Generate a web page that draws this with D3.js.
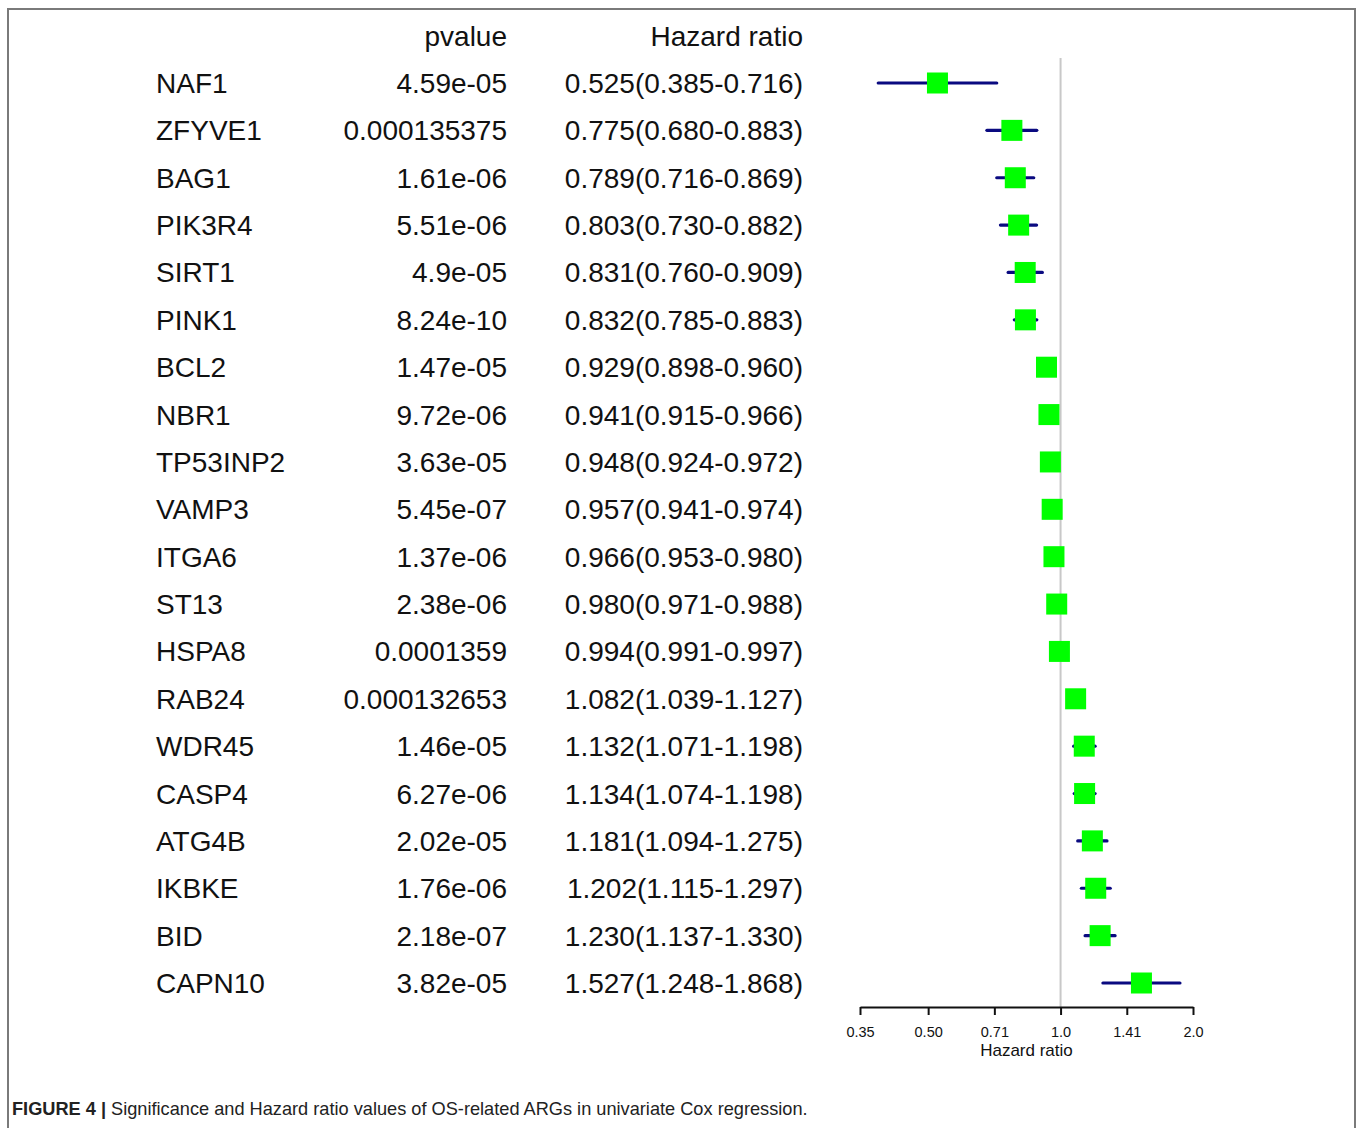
<!DOCTYPE html>
<html><head><meta charset="utf-8">
<script src="https://cdn.jsdelivr.net/npm/d3@7"></script>
<style>
html,body{margin:0;padding:0;background:#fff;}
svg{display:block;}
</style></head>
<body>
<script>
const genes = ["NAF1","ZFYVE1","BAG1","PIK3R4","SIRT1","PINK1","BCL2","NBR1","TP53INP2","VAMP3","ITGA6","ST13","HSPA8","RAB24","WDR45","CASP4","ATG4B","IKBKE","BID","CAPN10"];
const pvalues = ["4.59e-05","0.000135375","1.61e-06","5.51e-06","4.9e-05","8.24e-10","1.47e-05","9.72e-06","3.63e-05","5.45e-07","1.37e-06","2.38e-06","0.0001359","0.000132653","1.46e-05","6.27e-06","2.02e-05","1.76e-06","2.18e-07","3.82e-05"];
const hr = [0.525,0.775,0.789,0.803,0.831,0.832,0.929,0.941,0.948,0.957,0.966,0.980,0.994,1.082,1.132,1.134,1.181,1.202,1.230,1.527];
const hrLow = [0.385,0.680,0.716,0.730,0.760,0.785,0.898,0.915,0.924,0.941,0.953,0.971,0.991,1.039,1.071,1.074,1.094,1.115,1.137,1.248];
const hrHigh = [0.716,0.883,0.869,0.882,0.909,0.883,0.960,0.966,0.972,0.974,0.980,0.988,0.997,1.127,1.198,1.198,1.275,1.297,1.330,1.868];
const tickValues = [0.35,0.5,Math.SQRT1_2,1,Math.SQRT2,2];
const tickLabels = ["0.35","0.50","0.71","1.0","1.41","2.0"];

const W = 1357, H = 1128;
const svg = d3.select("body").append("svg").attr("width", W).attr("height", H);

// border
svg.append("path").attr("d", `M8,1128 L8,9 L1355,9 L1355,1128`)
  .attr("fill","none").attr("stroke","#7a7a7a").attr("stroke-width",2);

const font = "'Liberation Sans', Arial, sans-serif";
const fs = 28;

const y = d3.scalePoint().domain(genes).range([83, 983]);
const step = y.step();
const x = d3.scaleLog().base(2).domain([0.35, 2]).range([860, 1193]);

const fmt = d3.format(".3f");
const hrText = hr.map((v,i)=>`${fmt(v)}(${fmt(hrLow[i])}-${fmt(hrHigh[i])})`);

const base = 10;
const txt = svg.append("g").attr("font-family", font).attr("font-size", fs).attr("fill", "#111");
txt.append("text").attr("x", 507).attr("y", 83 - step + base).attr("text-anchor","end").text("pvalue");
txt.append("text").attr("x", 803).attr("y", 83 - step + base).attr("text-anchor","end").text("Hazard ratio");

const rows = txt.selectAll("g.row").data(genes).join("g").attr("class","row")
  .attr("transform", d => `translate(0,${y(d) + base})`);
rows.append("text").attr("x", 156).text(d => d);
rows.append("text").attr("x", 507).attr("text-anchor","end").text((d,i) => pvalues[i]);
rows.append("text").attr("x", 803).attr("text-anchor","end").text((d,i) => hrText[i]);

// reference line
svg.append("line").attr("x1", x(1)).attr("x2", x(1)).attr("y1", 58).attr("y2", 1007)
  .attr("stroke","#c8c8c8").attr("stroke-width",2);

// CI lines
svg.append("g").selectAll("line").data(genes).join("line")
  .attr("x1", (d,i) => x(hrLow[i])).attr("x2", (d,i) => x(hrHigh[i]))
  .attr("y1", d => y(d)).attr("y2", d => y(d))
  .attr("stroke", "#0a0a80").attr("stroke-width", 3.2).attr("stroke-linecap","round");

// squares
const sq = 21;
svg.append("g").selectAll("rect").data(genes).join("rect")
  .attr("x", (d,i) => x(hr[i]) - sq/2).attr("y", d => y(d) - sq/2)
  .attr("width", sq).attr("height", sq).attr("fill", "#00ff00");

// axis
const axis = d3.axisBottom(x).tickValues(tickValues).tickFormat((d,i) => tickLabels[i]).tickSize(8).tickSizeOuter(0);
const ag = svg.append("g").attr("transform", "translate(0,1007)").call(axis);
ag.select(".domain").attr("stroke","#111").attr("stroke-width",2);
ag.selectAll(".tick line").attr("stroke","#111").attr("stroke-width",2);
ag.selectAll(".tick text").attr("font-family", font).attr("font-size", 14.5).attr("fill","#111").attr("y", 20).attr("dy", "0.71em");
svg.append("text").attr("x", (860+1193)/2).attr("y", 1056).attr("text-anchor","middle")
  .attr("font-family", font).attr("font-size", 17).attr("fill","#111").text("Hazard ratio");

// caption
const cap = svg.append("text").attr("x", 12).attr("y", 1115)
  .attr("font-family", "'Liberation Sans Narrow', 'Arial Narrow', " + font).attr("font-size", 18.2).attr("fill","#222");
cap.append("tspan").attr("font-weight","bold").text("FIGURE 4 | ");
cap.append("tspan").text("Significance and Hazard ratio values of OS-related ARGs in univariate Cox regression.");
</script>
</body></html>
